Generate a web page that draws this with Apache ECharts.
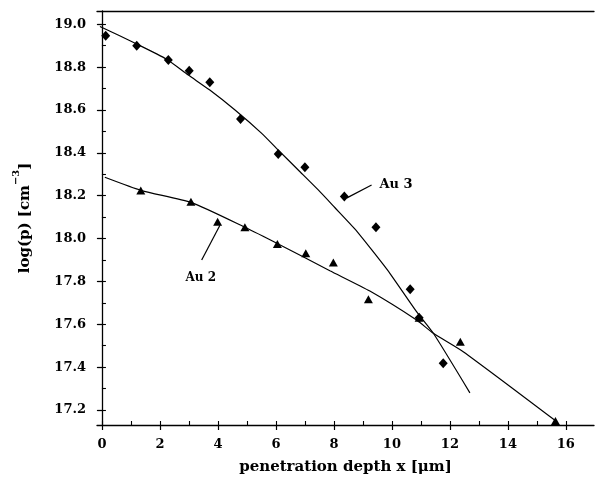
<!DOCTYPE html>
<html>
<head>
<meta charset="utf-8">
<script src="https://cdn.jsdelivr.net/npm/echarts@6/dist/echarts.min.js"></script>
<style>
html,body{margin:0;padding:0;background:#fff;}
#chart{width:595px;height:481px;}
</style>
</head>
<body>
<div id="chart"></div>
<script>
// ---- data ----
var xTicks = [0, 2, 4, 6, 8, 10, 12, 14, 16];
var xMinorTicks = [1, 3, 5, 7, 9, 11, 13, 15];
var yTicks = [17.2, 17.4, 17.6, 17.8, 18.0, 18.2, 18.4, 18.6, 18.8, 19.0];
var yMinorTicks = [17.3, 17.5, 17.7, 17.9, 18.1, 18.3, 18.5, 18.7, 18.9];
var xRange = [-0.17, 16.97];
var yRange = [17.13, 19.062];

var au3X = [0.13, 1.2, 2.29, 3.01, 3.72, 4.78, 6.08, 7.0, 8.36, 9.45, 10.63, 10.94, 11.77];
var au3Y = [18.947, 18.90, 18.833, 18.783, 18.729, 18.558, 18.395, 18.333, 18.196, 18.053, 17.763, 17.63, 17.418];

var au2X = [1.34, 3.07, 3.99, 4.93, 6.05, 7.03, 7.98, 9.19, 10.94, 12.36, 15.64];
var au2Y = [18.224, 18.172, 18.079, 18.053, 17.975, 17.931, 17.888, 17.717, 17.63, 17.519, 17.149];

var fit3X = [-0.07, 1.2, 2.23, 2.98, 3.72, 4.59, 5.51, 6.08, 6.77, 7.46, 8.03, 8.72, 9.30, 9.93, 10.85, 11.43, 12.69];
var fit3Y = [18.99, 18.908, 18.837, 18.763, 18.693, 18.60, 18.491, 18.413, 18.32, 18.227, 18.145, 18.045, 17.948, 17.838, 17.659, 17.558, 17.28];

var fit2X = [0.10, 1.37, 3.09, 4.93, 6.08, 7.86, 9.24, 10.85, 11.43, 12.46, 15.68];
var fit2Y = [18.286, 18.224, 18.168, 18.053, 17.975, 17.85, 17.755, 17.62, 17.558, 17.472, 17.146];

var labelAu3 = 'Au 3', labelAu3Pos = [10.14, 18.252], arrowAu3 = [[9.30, 18.25], [8.45, 18.19]];
var labelAu2 = 'Au 2', labelAu2Pos = [3.41, 17.816], arrowAu2 = [[3.44, 17.90], [4.07, 18.062]];

function zip(a, b) { return a.map(function (v, i) { return [v, b[i]]; }); }

var FONT = 'DejaVu Serif';
var INK = '#000';

var chart = echarts.init(document.getElementById('chart'), null, {renderer: 'canvas'});
var option = {
  animation: false,
  backgroundColor: '#fff',
  grid: {left: 97, right: 1, top: 11, bottom: 56},
  xAxis: [
    {
      type: 'value', position: 'bottom', min: xRange[0], max: xRange[1],
      name: 'penetration depth x [\u03bcm]', nameLocation: 'middle', nameGap: 35,
      nameTextStyle: {fontFamily: FONT, fontWeight: 'bold', fontSize: 15, color: INK},
      axisLine: {show: true, lineStyle: {color: INK, width: 1.3}},
      axisTick: {show: true, inside: false, length: 5, customValues: xTicks, lineStyle: {color: INK, width: 1.2}},
      axisLabel: {show: true, margin: 13, customValues: xTicks, fontFamily: FONT, fontWeight: 'bold', fontSize: 13, color: INK,
        formatter: function (v) { return String(Math.round(v)); }},
      splitLine: {show: false}
    },
    {
      type: 'value', position: 'bottom', min: xRange[0], max: xRange[1],
      axisLine: {show: false},
      axisTick: {show: true, inside: true, length: 4, customValues: xTicks.concat(xMinorTicks), lineStyle: {color: INK, width: 1.1}},
      axisLabel: {show: false}, splitLine: {show: false}
    },
    {
      type: 'value', position: 'top', min: xRange[0], max: xRange[1],
      axisLine: {show: true, lineStyle: {color: INK, width: 1.3}},
      axisTick: {show: false}, axisLabel: {show: false}, splitLine: {show: false}
    }
  ],
  yAxis: [
    {
      type: 'value', position: 'left', min: yRange[0], max: yRange[1],
      name: '{n|log(p) [cm}{s|\u22123}{n|]}', nameLocation: 'middle', nameGap: 64, nameRotate: 90,
      nameTextStyle: {fontFamily: FONT, fontWeight: 'bold', fontSize: 15, color: INK,
        rich: {
          n: {fontFamily: FONT, fontWeight: 'bold', fontSize: 15, color: INK, lineHeight: 22, verticalAlign: 'bottom'},
          s: {fontFamily: FONT, fontWeight: 'bold', fontSize: 10, color: INK, lineHeight: 22, verticalAlign: 'top', padding: [0, 0, 10, 0]}
        }},
      axisLine: {show: true, lineStyle: {color: INK, width: 1.3}},
      axisTick: {show: true, inside: false, length: 5, customValues: yTicks, lineStyle: {color: INK, width: 1.2}},
      axisLabel: {show: true, margin: 11, customValues: yTicks, fontFamily: FONT, fontWeight: 'bold', fontSize: 13, color: INK,
        formatter: function (v) { return v.toFixed(1); }},
      splitLine: {show: false}
    },
    {
      type: 'value', position: 'left', min: yRange[0], max: yRange[1],
      axisLine: {show: false},
      axisTick: {show: true, inside: true, length: 4, customValues: yTicks.concat(yMinorTicks), lineStyle: {color: INK, width: 1.1}},
      axisLabel: {show: false}, splitLine: {show: false}
    },
    {
      type: 'value', position: 'right', min: yRange[0], max: yRange[1],
      axisLine: {show: false},
      axisTick: {show: true, inside: true, length: 4, customValues: yTicks, lineStyle: {color: INK, width: 1.1}},
      axisLabel: {show: false}, splitLine: {show: false}
    }
  ],
  series: [
    {
      name: 'Au 3 fit', type: 'line', xAxisIndex: 0, yAxisIndex: 0,
      data: zip(fit3X, fit3Y), showSymbol: false, symbol: 'none', smooth: 0.2,
      lineStyle: {color: INK, width: 1.2}, silent: true
    },
    {
      name: 'Au 2 fit', type: 'line', xAxisIndex: 0, yAxisIndex: 0,
      data: zip(fit2X, fit2Y), showSymbol: false, symbol: 'none', smooth: 0.2,
      lineStyle: {color: INK, width: 1.2}, silent: true
    },
    {
      name: 'Au 3', type: 'scatter', xAxisIndex: 0, yAxisIndex: 0,
      data: zip(au3X, au3Y), symbol: 'diamond', symbolSize: [9, 10],
      itemStyle: {color: INK, opacity: 1},
      markLine: {
        silent: true, symbol: ['none', 'none'],
        lineStyle: {color: INK, width: 1.2, type: 'solid'},
        label: {show: false},
        data: [[{coord: arrowAu3[0]}, {coord: arrowAu3[1]}]]
      },
      markPoint: {
        silent: true, symbol: 'circle', symbolSize: 0,
        label: {show: true, position: 'inside', formatter: labelAu3, fontFamily: FONT, fontWeight: 'bold', fontSize: 13, color: INK},
        data: [{coord: labelAu3Pos}]
      }
    },
    {
      name: 'Au 2', type: 'scatter', xAxisIndex: 0, yAxisIndex: 0,
      data: zip(au2X, au2Y), symbol: 'triangle', symbolSize: [9, 8],
      itemStyle: {color: INK, opacity: 1},
      markLine: {
        silent: true, symbol: ['none', 'arrow'], symbolSize: [0, 9],
        lineStyle: {color: INK, width: 1.2, type: 'solid'},
        label: {show: false},
        data: [[{coord: arrowAu2[0]}, {coord: arrowAu2[1]}]]
      },
      markPoint: {
        silent: true, symbol: 'circle', symbolSize: 0,
        label: {show: true, position: 'inside', formatter: labelAu2, fontFamily: FONT, fontWeight: 'bold', fontSize: 12, color: INK},
        data: [{coord: labelAu2Pos}]
      }
    }
  ]
};
chart.setOption(option);
</script>
</body>
</html>
